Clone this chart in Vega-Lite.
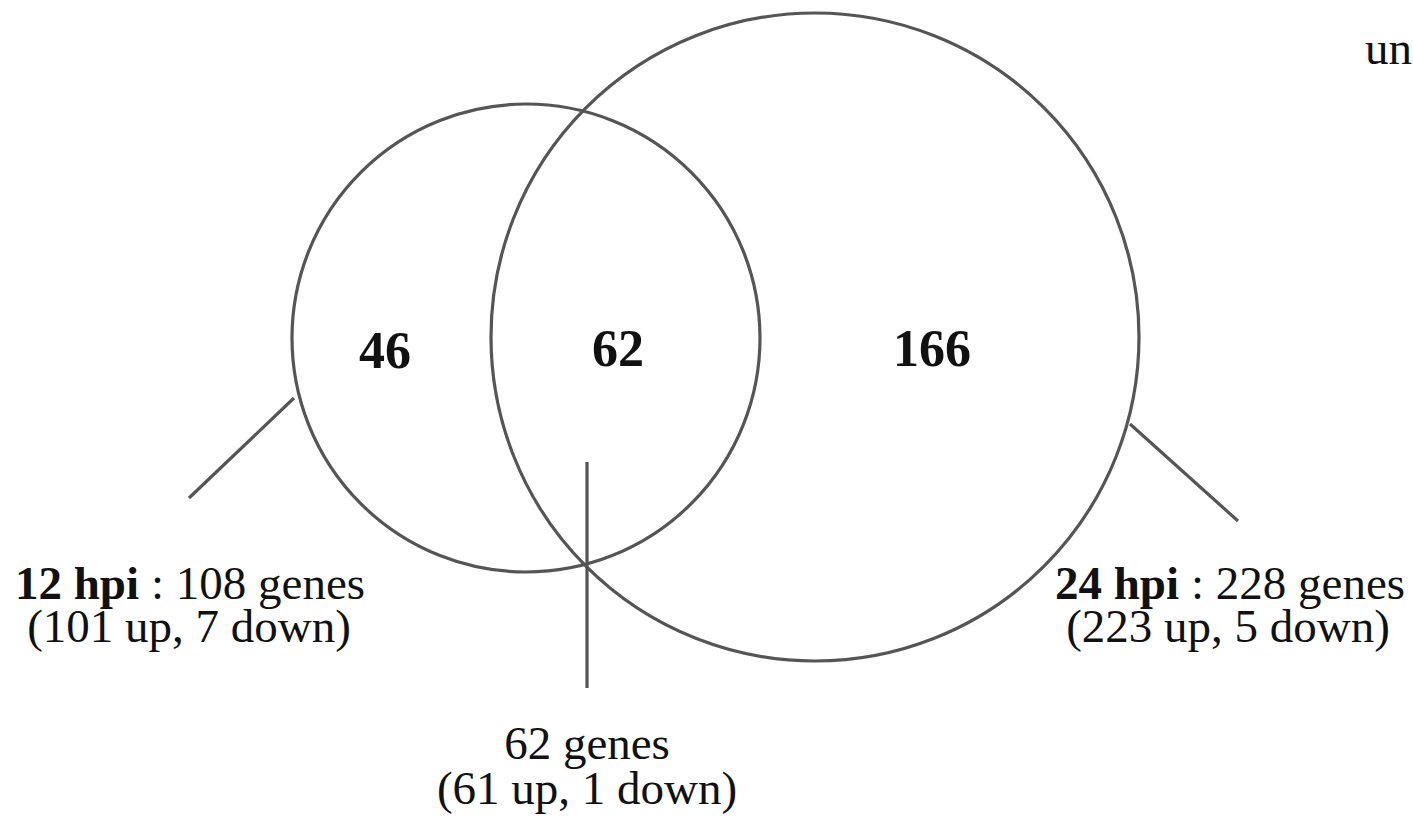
{
  "$schema": "https://vega.github.io/schema/vega-lite/v6.json",
  "width": 1413,
  "height": 827,
  "padding": 0,
  "autosize": {"type": "none"},
  "background": "white",
  "config": {"view": {"stroke": null}},
  "datasets": {
    "sets": [
      {"set": "12 hpi", "genes": 108, "cx": 526, "cy": 338},
      {"set": "24 hpi", "genes": 228, "cx": 815, "cy": 337}
    ],
    "regions": [
      {"region": "12 hpi only", "count": "46", "x": 385, "y": 352},
      {"region": "both", "count": "62", "x": 618, "y": 350},
      {"region": "24 hpi only", "count": "166", "x": 932, "y": 350}
    ],
    "leaders": [
      {"label": "12 hpi", "x": 294, "y": 398, "x2": 189, "y2": 498},
      {"label": "both", "x": 587, "y": 462, "x2": 587, "y2": 688},
      {"label": "24 hpi", "x": 1130, "y": 424, "x2": 1238, "y2": 521}
    ],
    "boldlabels": [
      {"text": "12 hpi", "x": 139, "y": 585},
      {"text": "24 hpi", "x": 1179, "y": 585}
    ],
    "leftlabels": [
      {"text": ": 108 genes", "x": 151, "y": 585},
      {"text": ": 228 genes", "x": 1191, "y": 585},
      {"text": "und", "x": 1365, "y": 50}
    ],
    "centerlabels": [
      {"text": "(101 up, 7 down)", "x": 189, "y": 628},
      {"text": "(223 up, 5 down)", "x": 1228, "y": 628},
      {"text": "62 genes", "x": 587, "y": 745},
      {"text": "(61 up, 1 down)", "x": 587, "y": 790}
    ]
  },
  "layer": [
    {
      "data": {"name": "sets"},
      "mark": {"type": "point", "shape": "circle", "filled": false, "stroke": "#555555", "strokeWidth": 3.2, "opacity": 1},
      "encoding": {
        "x": {"field": "cx", "type": "quantitative", "scale": {"domain": [0, 1413], "nice": false, "zero": false}, "axis": null},
        "y": {"field": "cy", "type": "quantitative", "scale": {"domain": [0, 827], "nice": false, "zero": false, "reverse": true}, "axis": null},
        "size": {"field": "genes", "type": "quantitative", "scale": {"domain": [108, 228], "range": [219024, 419904], "zero": false}, "legend": null}
      }
    },
    {
      "data": {"name": "leaders"},
      "mark": {"type": "rule", "stroke": "#555555", "strokeWidth": 3.2},
      "encoding": {
        "x": {"field": "x", "type": "quantitative", "scale": {"domain": [0, 1413], "nice": false, "zero": false}, "axis": null},
        "y": {"field": "y", "type": "quantitative", "scale": {"domain": [0, 827], "nice": false, "zero": false, "reverse": true}, "axis": null},
        "x2": {"field": "x2"},
        "y2": {"field": "y2"}
      }
    },
    {
      "data": {"name": "regions"},
      "mark": {"type": "text", "font": "Liberation Serif", "fontWeight": "bold", "fontSize": 52, "baseline": "middle", "align": "center", "color": "#111111"},
      "encoding": {
        "x": {"field": "x", "type": "quantitative", "scale": {"domain": [0, 1413], "nice": false, "zero": false}, "axis": null},
        "y": {"field": "y", "type": "quantitative", "scale": {"domain": [0, 827], "nice": false, "zero": false, "reverse": true}, "axis": null},
        "text": {"field": "count", "type": "nominal"}
      }
    },
    {
      "data": {"name": "boldlabels"},
      "mark": {"type": "text", "font": "Liberation Serif", "fontWeight": "bold", "fontSize": 47, "baseline": "middle", "align": "right", "color": "#111111"},
      "encoding": {
        "x": {"field": "x", "type": "quantitative", "scale": {"domain": [0, 1413], "nice": false, "zero": false}, "axis": null},
        "y": {"field": "y", "type": "quantitative", "scale": {"domain": [0, 827], "nice": false, "zero": false, "reverse": true}, "axis": null},
        "text": {"field": "text", "type": "nominal"}
      }
    },
    {
      "data": {"name": "leftlabels"},
      "mark": {"type": "text", "font": "Liberation Serif", "fontSize": 47, "baseline": "middle", "align": "left", "color": "#111111"},
      "encoding": {
        "x": {"field": "x", "type": "quantitative", "scale": {"domain": [0, 1413], "nice": false, "zero": false}, "axis": null},
        "y": {"field": "y", "type": "quantitative", "scale": {"domain": [0, 827], "nice": false, "zero": false, "reverse": true}, "axis": null},
        "text": {"field": "text", "type": "nominal"}
      }
    },
    {
      "data": {"name": "centerlabels"},
      "mark": {"type": "text", "font": "Liberation Serif", "fontSize": 47, "baseline": "middle", "align": "center", "color": "#111111"},
      "encoding": {
        "x": {"field": "x", "type": "quantitative", "scale": {"domain": [0, 1413], "nice": false, "zero": false}, "axis": null},
        "y": {"field": "y", "type": "quantitative", "scale": {"domain": [0, 827], "nice": false, "zero": false, "reverse": true}, "axis": null},
        "text": {"field": "text", "type": "nominal"}
      }
    }
  ]
}
